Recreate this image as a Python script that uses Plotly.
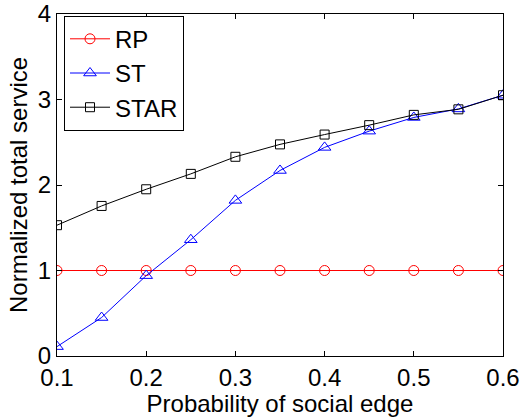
import plotly.graph_objects as go

# Probability of a social edge (x axis)
prob = [0.10, 0.15, 0.20, 0.25, 0.30, 0.35, 0.40, 0.45, 0.50, 0.55, 0.60]

# Normalized total service per scheme
rp = [1.0, 1.0, 1.0, 1.0, 1.0, 1.0, 1.0, 1.0, 1.0, 1.0, 1.0]
st = [0.11, 0.45, 0.94, 1.36, 1.82, 2.17, 2.44, 2.63, 2.79, 2.89, 3.05]
star = [1.53, 1.755, 1.95, 2.13, 2.33, 2.475, 2.59, 2.70, 2.82, 2.885, 3.05]

x_ticks = [0.1, 0.2, 0.3, 0.4, 0.5, 0.6]
x_tick_text = ["0.1", "0.2", "0.3", "0.4", "0.5", "0.6"]
y_ticks = [0, 1, 2, 3, 4]

FONT = "Liberation Sans, Arial, sans-serif"

fig = go.Figure()
fig.add_trace(go.Scatter(
    x=prob, y=rp, name="RP", mode="lines+markers",
    line=dict(color="#ff0000", width=1),
    marker=dict(symbol="circle-open", size=10, color="#ff0000", line=dict(width=1)),
))
fig.add_trace(go.Scatter(
    x=prob, y=st, name="ST", mode="lines+markers",
    line=dict(color="#0000ff", width=1),
    marker=dict(symbol="triangle-up-open", size=11, color="#0000ff", line=dict(width=1)),
))
fig.add_trace(go.Scatter(
    x=prob, y=star, name="STAR", mode="lines+markers",
    line=dict(color="#000000", width=1),
    marker=dict(symbol="square-open", size=9, color="#000000", line=dict(width=1)),
))

axis_common = dict(
    showline=True, linecolor="black", linewidth=1, mirror="ticks",
    ticks="inside", ticklen=5, tickcolor="black", tickwidth=1,
    showgrid=False, zeroline=False,
    tickfont=dict(family=FONT, size=24, color="black"),
)

fig.update_xaxes(
    range=[0.1, 0.6], tickvals=x_ticks, ticktext=x_tick_text,
    title=dict(text="Probability of social edge", font=dict(family=FONT, size=24, color="black"), standoff=1),
    **axis_common,
)
fig.update_yaxes(
    range=[0, 4], tickvals=y_ticks,
    title=dict(text="Normalized total service", font=dict(family=FONT, size=24, color="black"), standoff=3),
    **axis_common,
)

fig.update_layout(
    width=523, height=417,
    margin=dict(l=57, r=20, t=14, b=61, autoexpand=False),
    paper_bgcolor="white", plot_bgcolor="white",
    showlegend=True,
    legend=dict(
        x=0.0157, y=0.995, xanchor="left", yanchor="top",
        bgcolor="white", bordercolor="black", borderwidth=1,
        font=dict(family=FONT, size=24, color="black"),
        itemwidth=40, tracegroupgap=0,
    ),
)

fig.write_html("out.html")
